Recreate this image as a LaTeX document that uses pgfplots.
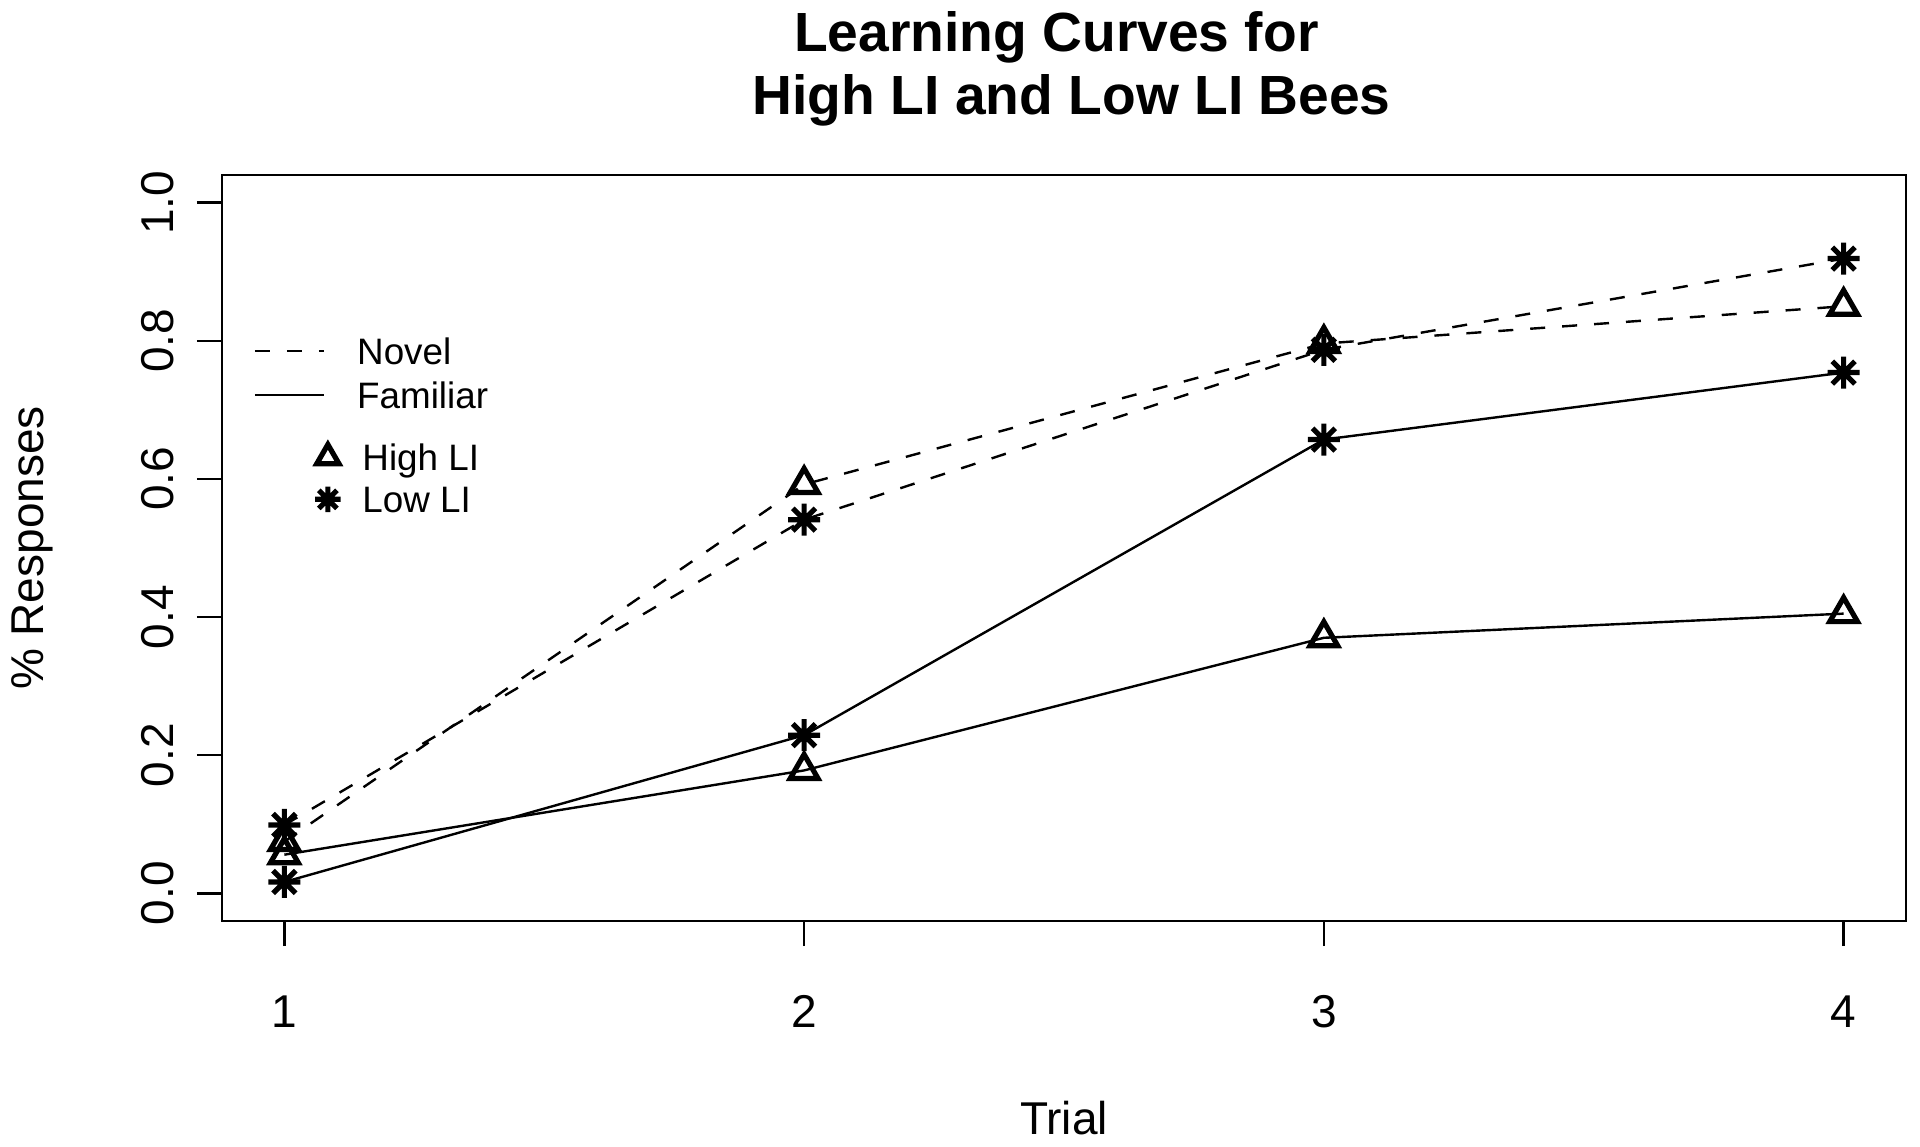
\documentclass[border=0pt]{standalone}
\usepackage{fontspec}
\setmainfont{Liberation Sans}
\usepackage{pgfplots}
\pgfplotsset{compat=1.18}

\pgfdeclareplotmark{rstar}{%
  \pgfpathmoveto{\pgfqpoint{-\pgfplotmarksize}{0pt}}%
  \pgfpathlineto{\pgfqpoint{\pgfplotmarksize}{0pt}}%
  \pgfpathmoveto{\pgfqpoint{0pt}{-\pgfplotmarksize}}%
  \pgfpathlineto{\pgfqpoint{0pt}{\pgfplotmarksize}}%
  \pgfpathmoveto{\pgfqpoint{-0.7071\pgfplotmarksize}{-0.7071\pgfplotmarksize}}%
  \pgfpathlineto{\pgfqpoint{0.7071\pgfplotmarksize}{0.7071\pgfplotmarksize}}%
  \pgfpathmoveto{\pgfqpoint{-0.7071\pgfplotmarksize}{0.7071\pgfplotmarksize}}%
  \pgfpathlineto{\pgfqpoint{0.7071\pgfplotmarksize}{-0.7071\pgfplotmarksize}}%
  \pgfusepathqstroke}

\tikzset{
  novel/.style={line width=0.6pt, dash pattern=on 3.75pt off 4.25pt},
  familiar/.style={line width=0.6pt, solid},
  hi/.style={mark=triangle, mark size=4pt, mark options={solid, line width=1.3pt}},
  lo/.style={mark=rstar, mark size=4pt, mark options={solid, line width=1.3pt}},
}

\begin{document}
\begin{tikzpicture}
\useasboundingbox (-55.5pt,-56.5pt) rectangle (424.5pt,230.25pt);
\begin{axis}[
  at={(0pt,0pt)}, anchor=south west,
  scale only axis, width=421pt, height=186.5pt,
  xmin=0.88, xmax=4.12, ymin=-0.04, ymax=1.04,
  xtick={1,2,3,4}, xticklabels={1,2,3,4},
  ytick={0,0.2,0.4,0.6,0.8,1},
  yticklabels={0.0,0.2,0.4,0.6,0.8,1.0},
  /pgf/number format/assume math mode=true,
  tick pos=left, tick align=outside, major tick length=6.25pt,
  axis line style={line width=0.6pt},
  every tick/.style={black, line width=0.6pt},
  tick label style={font=\fontsize{11.5}{13.8}\selectfont},
  xticklabel style={anchor=base, yshift=-20.3pt},
  yticklabel style={anchor=base, rotate=90, yshift=5.85pt},
  xlabel={Trial}, ylabel={\% Responses},
  label style={font=\fontsize{11.5}{13.8}\selectfont},
  xlabel style={at={(axis description cs:0.5,0)}, anchor=base, yshift=-53.4pt},
  ylabel style={at={(axis description cs:0,0.5)}, anchor=base, yshift=44.5pt},
  title={Learning Curves for\hspace*{0.278em}\\\hspace*{0.278em}High LI and Low LI Bees},
  title style={at={(axis description cs:0.5,1)}, anchor=south, yshift=6.1pt, align=center, inner sep=0pt,
    font=\bfseries\fontsize{13.8}{15.6}\selectfont},
]
\addplot[novel, hi] coordinates {(1,0.075) (2,0.592) (3,0.796) (4,0.850)};
\addplot[novel, lo] coordinates {(1,0.099) (2,0.541) (3,0.787) (4,0.919)};
\addplot[familiar, hi] coordinates {(1,0.056) (2,0.178) (3,0.370) (4,0.405)};
\addplot[familiar, lo] coordinates {(1,0.0165) (2,0.229) (3,0.657) (4,0.754)};
\end{axis}

% legend for line types
\begin{axis}[
  at={(0pt,0pt)}, anchor=south west,
  scale only axis, width=421pt, height=186.5pt,
  xmin=0, xmax=1, ymin=0, ymax=1, hide axis,
  legend image code/.code={\draw[#1] (0pt,0pt) -- (17.25pt,0pt);},
  legend cell align=left,
  legend style={draw=none, fill=none, at={(0.0184,0.7345)}, anchor=west,
    inner sep=0pt, column sep=8pt, row sep=4.4pt,
    font=\fontsize{9.2}{11}\selectfont,
    nodes={inner sep=0pt, text height=6.6pt, text depth=0pt}},
]
\addlegendimage{novel}
\addlegendentry{Novel}
\addlegendimage{familiar}
\addlegendentry{Familiar}
\end{axis}

% legend for point types
\begin{axis}[
  at={(0pt,0pt)}, anchor=south west,
  scale only axis, width=421pt, height=186.5pt,
  xmin=0, xmax=1, ymin=0, ymax=1, hide axis,
  legend image code/.code={\draw[#1] plot coordinates {(0pt,0pt)};},
  legend cell align=left,
  legend style={draw=none, fill=none, at={(0.0548,0.5934)}, anchor=west,
    inner sep=0pt, column sep=5.45pt, row sep=3.9pt,
    font=\fontsize{9.2}{11}\selectfont,
    nodes={inner sep=0pt, text height=6.6pt, text depth=0pt}},
]
\addlegendimage{only marks, hi, mark size=3.2pt}
\addlegendentry{High LI}
\addlegendimage{only marks, lo, mark size=3.2pt}
\addlegendentry{Low LI}
\end{axis}
\end{tikzpicture}
\end{document}
